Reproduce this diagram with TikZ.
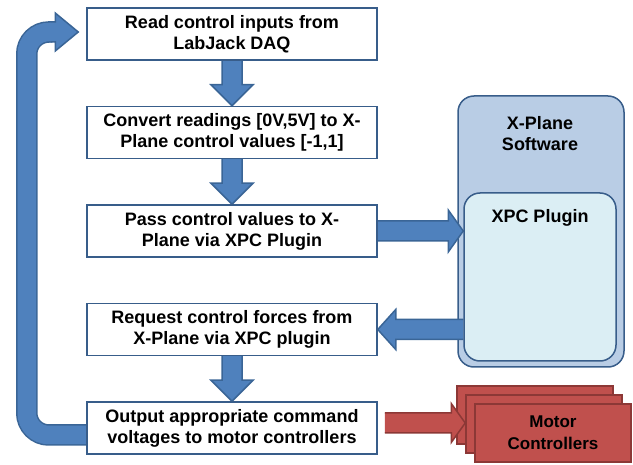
\documentclass[tikz,border=0pt]{standalone}
\usepackage{fontspec}
\setmainfont{Liberation Sans}
\usetikzlibrary{calc}
\usetikzlibrary{positioning}

\definecolor{boxline}{HTML}{385D8A}
\definecolor{flowfill}{HTML}{4F81BD}
\definecolor{flowline}{HTML}{3A6596}
\definecolor{swfill}{HTML}{B9CDE5}
\definecolor{plugfill}{HTML}{DBEEF4}
\definecolor{motorfill}{HTML}{C0504D}
\definecolor{motorline}{HTML}{8C3836}

\pgfdeclarelayer{bottom}
\pgfdeclarelayer{background}
\pgfsetlayers{bottom,background,main}

\newcommand\blockarrow[5][flow]{%
  \coordinate (ba-h) at ($(#3)!#4!(#2)$);
  \filldraw[#1] ($(#2)!10pt!90:(#3)$) -- ($(ba-h)!10pt!90:(#3)$) -- ($(ba-h)!#5!90:(#3)$) -- (#3)
    -- ($(ba-h)!#5!-90:(#3)$) -- ($(ba-h)!10pt!-90:(#3)$) -- ($(#2)!10pt!-90:(#3)$);
}

\begin{document}
\begin{tikzpicture}[x=1pt, y=-1pt,
    proc/.style={draw=boxline, line width=1.5pt, fill=white, minimum width=290pt, minimum height=52pt,
      inner sep=0pt, align=center, font=\bfseries\fontsize{18}{21}\selectfont},
    swbox/.style={draw=boxline, line width=1.5pt, rounded corners=16pt},
    title/.style={align=center, inner sep=0pt, font=\bfseries\fontsize{18}{21}\selectfont},
    motorbox/.style={draw=motorline, line width=1.5pt, fill=motorfill, minimum width=156pt, minimum height=58pt,
      inner sep=0pt, align=center, font=\bfseries\fontsize{17}{22}\selectfont},
    flow/.style={fill=flowfill, draw=flowline, line width=1.5pt},
    redflow/.style={fill=motorfill, draw=motorline, line width=1.5pt},
    loopshaft/.style={draw=flowline, line width=1.5pt, double=flowfill, double distance=18.5pt, rounded corners=22pt}]
\useasboundingbox (0,0) rectangle (633,465);

\node[proc] (read) at (232,34) {Read control inputs from\\LabJack DAQ};
\node[proc, below=45pt of read] (convert) {Convert readings [0V,5V] to X-\\Plane control values [-1,1]};
\node[proc, below=45pt of convert] (pass) {Pass control values to X-\\Plane via XPC Plugin};
\node[proc, below=45pt of pass] (request) {Request control forces from\\X-Plane via XPC plugin};
\node[proc, below=45pt of request] (output) {Output appropriate command\\voltages to motor controllers};

\begin{pgfonlayer}{bottom}
\node[swbox, fill=swfill, minimum width=166pt, minimum height=271pt] (xplane) at (541,231.5) {};
\end{pgfonlayer}
\node[title] (swtitle) at (540,134) {X-Plane\\Software};
\node[swbox, fill=plugfill, minimum width=152pt, minimum height=168pt] (xpc) at (540,277) {};
\node[title] (plugtitle) at (540,218) {XPC Plugin};

\node[motorbox] (motor3) at (535,415) {};
\node[motorbox] (motor2) at (544,424) {};
\node[motorbox] (motor1) at (553,433) {Motor\\Controllers};

\coordinate (passout) at (pass.east -| xpc.west);
\coordinate (plugout) at (request.east -| xpc.west);
\coordinate (loopbase) at ($(read.west)+(-36,-2)$);
\coordinate (looptip) at ($(read.west)+(-8,-2)$);
\coordinate (redstart) at ($(output.east)+(7,-5)$);
\coordinate (redend) at (redstart -| motor2.west);

\begin{pgfonlayer}{background}
\blockarrow{read.south}{convert.north}{21pt}{21pt}
\blockarrow{convert.south}{pass.north}{21pt}{21pt}
\blockarrow{request.south}{output.north}{21pt}{21pt}
\blockarrow{pass.east}{passout}{15pt}{21pt}
\blockarrow{plugout}{request.east}{18pt}{20pt}
\draw[loopshaft] ($(output.west)+(0,7)$) -| ($(read.west)+(-59.5,-2)$) -- ($(read.west)+(-34,-2)$);
\blockarrow{loopbase}{looptip}{23pt}{19pt}
\end{pgfonlayer}

\blockarrow[redflow]{redstart}{redend}{14pt}{19.5pt}
\end{tikzpicture}
\end{document}
